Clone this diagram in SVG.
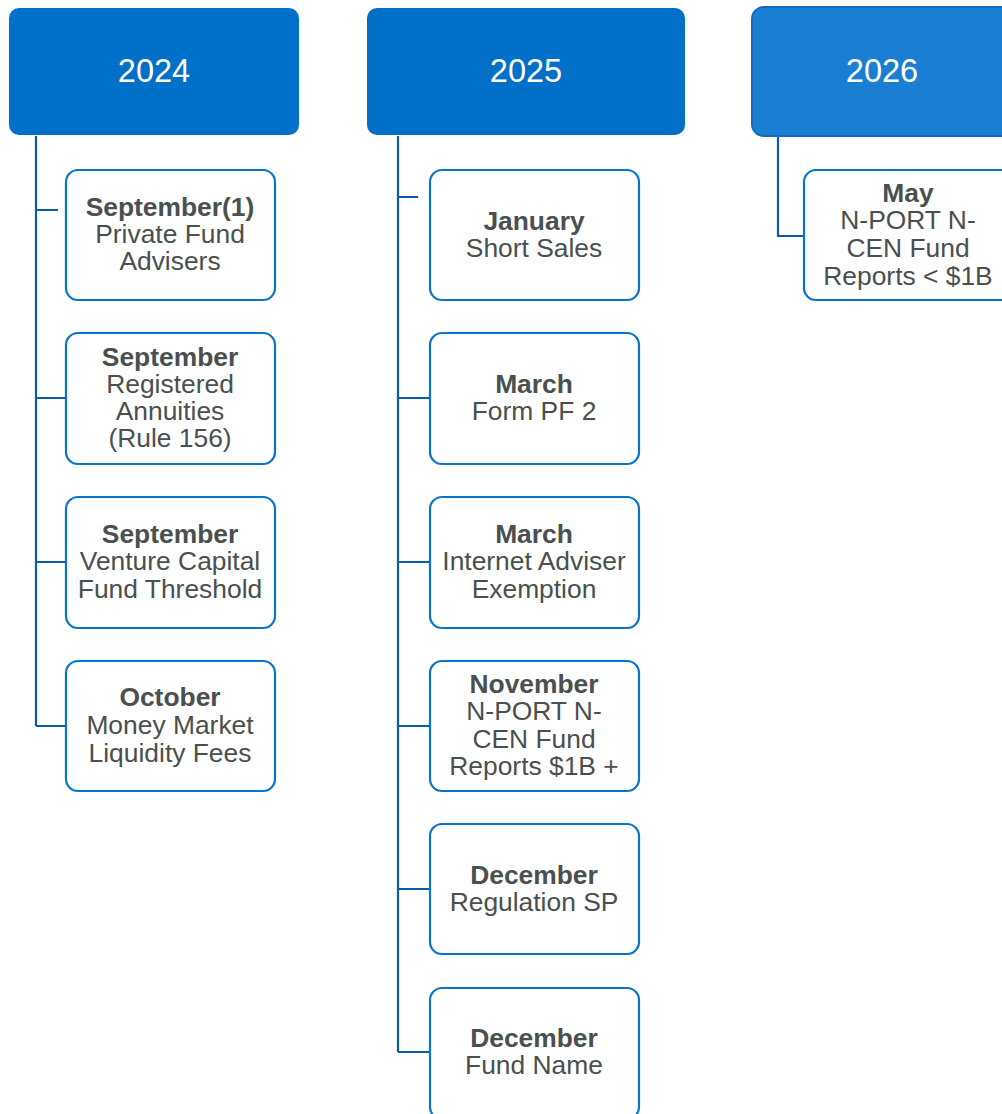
<svg xmlns="http://www.w3.org/2000/svg" width="1002" height="1114" viewBox="0 0 1002 1114">
<style>
.hdr{fill:#0070C9}
.hdr2{fill:#1A7FD2;stroke:#0E6BBF;stroke-width:2}
.yr{font-family:"Liberation Sans",Arial,sans-serif;font-size:32.5px;fill:#fff;text-anchor:middle}
.box{fill:#fff;stroke:#0A74CC;stroke-width:2.2}
.t{font-family:"Liberation Sans",Arial,sans-serif;font-size:26.4px;fill:#4A4F4F;text-anchor:middle}
.b{font-weight:bold}
.ln{fill:none;stroke:#0A5BA8;stroke-width:2.2}
</style>
<g id="connectors">
<path class="ln" d="M36 136V726M36 210H58M36 398H65M36 562H65M36 726H65"/>
<path class="ln" d="M398 136V1052M398 197H418M398 398H430M398 562H430M398 726H430M398 889H430M398 1052H430"/>
<path class="ln" d="M778 137V236H804"/>
</g>
<g id="h2024"><rect class="hdr" x="9" y="8" width="290" height="127" rx="10"/><text class="yr" x="154" y="82">2024</text></g>
<g id="h2025"><rect class="hdr" x="367" y="8" width="318" height="127" rx="10"/><text class="yr" x="526" y="82">2025</text></g>
<g id="h2026"><rect class="hdr2" x="752" y="7" width="262" height="129" rx="12"/><text class="yr" x="882" y="82">2026</text></g>

<g id="n1"><rect class="box" x="66" y="170" width="209" height="130" rx="12"/><text class="t"><tspan class="b" x="170" y="216">September(1)</tspan><tspan x="170" y="243">Private Fund</tspan><tspan x="170" y="270">Advisers</tspan></text></g>
<g id="n2"><rect class="box" x="66" y="333" width="209" height="131" rx="12"/><text class="t"><tspan class="b" x="170" y="366">September</tspan><tspan x="170" y="393">Registered</tspan><tspan x="170" y="420">Annuities</tspan><tspan x="170" y="447">(Rule 156)</tspan></text></g>
<g id="n3"><rect class="box" x="66" y="497" width="209" height="131" rx="12"/><text class="t"><tspan class="b" x="170" y="543">September</tspan><tspan x="170" y="570">Venture Capital</tspan><tspan x="170" y="598">Fund Threshold</tspan></text></g>
<g id="n4"><rect class="box" x="66" y="661" width="209" height="130" rx="12"/><text class="t"><tspan class="b" x="170" y="706">October</tspan><tspan x="170" y="734">Money Market</tspan><tspan x="170" y="762">Liquidity Fees</tspan></text></g>

<g id="n5"><rect class="box" x="430" y="170" width="209" height="130" rx="12"/><text class="t"><tspan class="b" x="534" y="230">January</tspan><tspan x="534" y="257">Short Sales</tspan></text></g>
<g id="n6"><rect class="box" x="430" y="333" width="209" height="131" rx="12"/><text class="t"><tspan class="b" x="534" y="393">March</tspan><tspan x="534" y="420">Form PF 2</tspan></text></g>
<g id="n7"><rect class="box" x="430" y="497" width="209" height="131" rx="12"/><text class="t"><tspan class="b" x="534" y="543">March</tspan><tspan x="534" y="570">Internet Adviser</tspan><tspan x="534" y="598">Exemption</tspan></text></g>
<g id="n8"><rect class="box" x="430" y="661" width="209" height="130" rx="12"/><text class="t"><tspan class="b" x="534" y="693">November</tspan><tspan x="534" y="720">N-PORT N-</tspan><tspan x="534" y="748">CEN Fund</tspan><tspan x="534" y="775">Reports $1B +</tspan></text></g>
<g id="n9"><rect class="box" x="430" y="824" width="209" height="130" rx="12"/><text class="t"><tspan class="b" x="534" y="884">December</tspan><tspan x="534" y="911">Regulation SP</tspan></text></g>
<g id="n10"><rect class="box" x="430" y="988" width="209" height="131" rx="12"/><text class="t"><tspan class="b" x="534" y="1047">December</tspan><tspan x="534" y="1074">Fund Name</tspan></text></g>

<g id="n11"><rect class="box" x="804" y="170" width="210" height="130" rx="12"/><text class="t"><tspan class="b" x="908" y="202">May</tspan><tspan x="908" y="229">N-PORT N-</tspan><tspan x="908" y="257">CEN Fund</tspan><tspan x="908" y="285">Reports &lt; $1B</tspan></text></g>
</svg>
